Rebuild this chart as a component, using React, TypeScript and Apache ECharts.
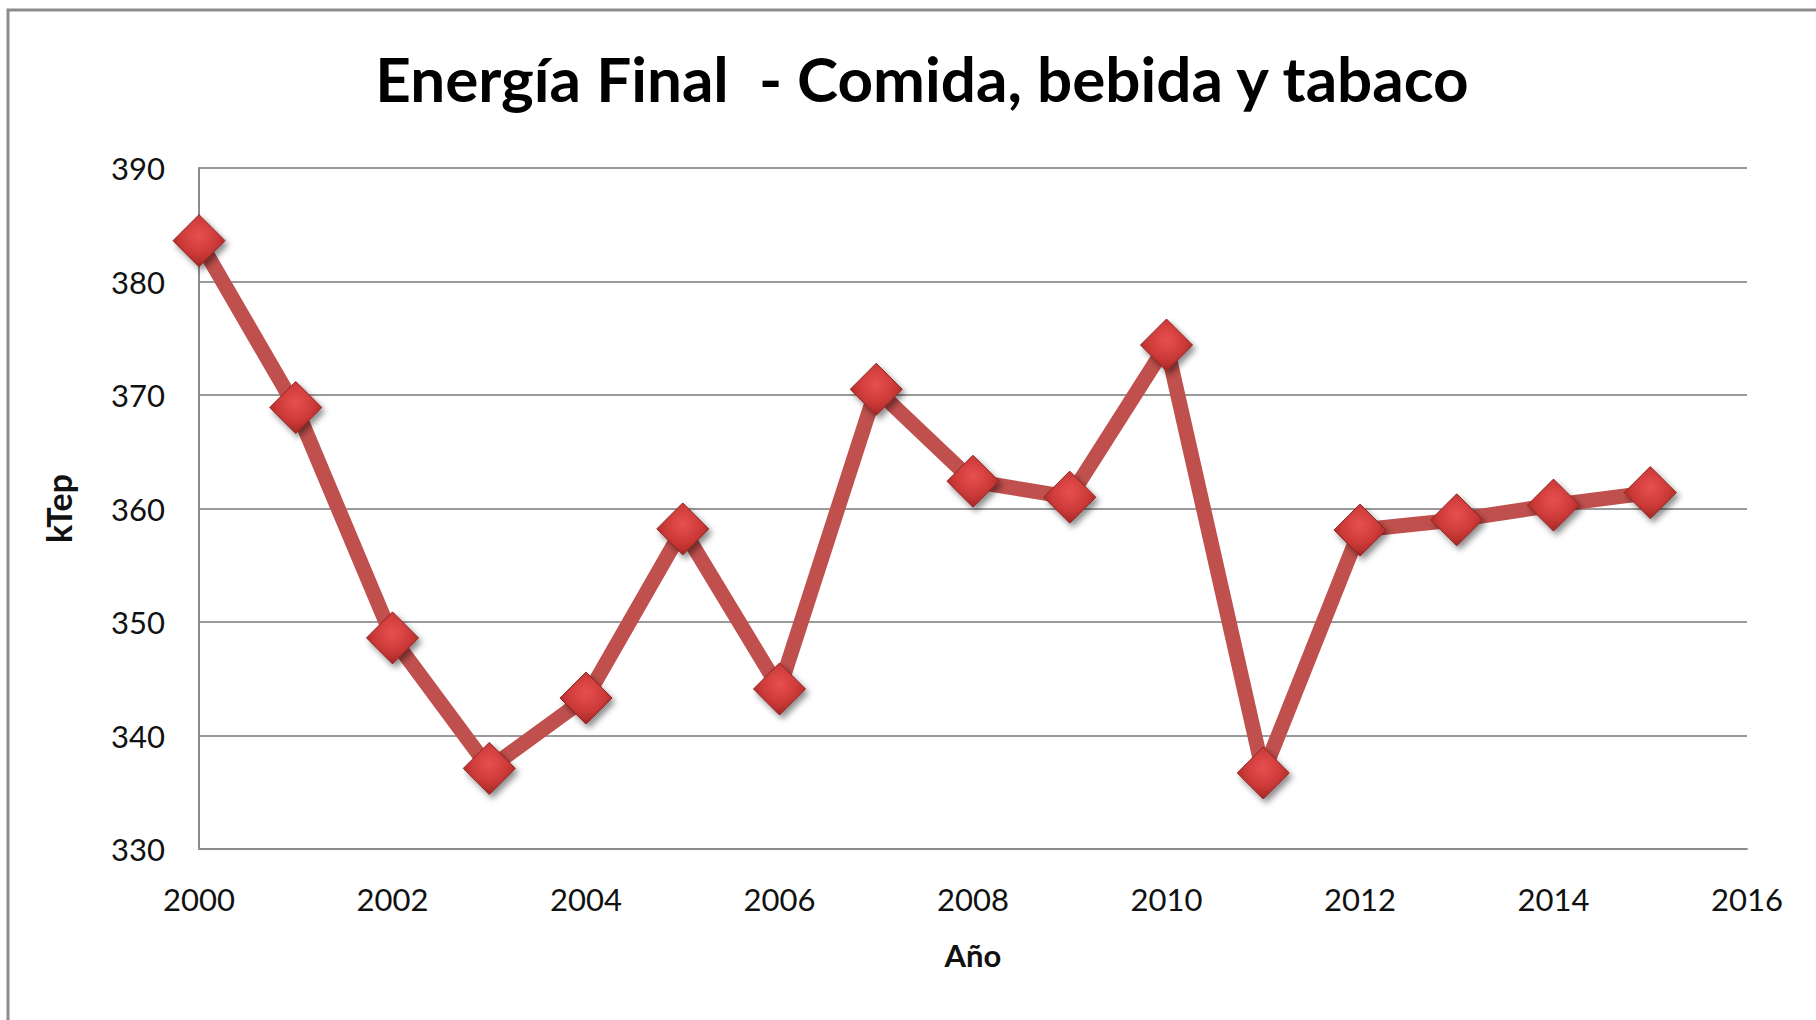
import React, { useEffect, useRef } from "react";
import * as echarts from "echarts";

const years = [2000, 2001, 2002, 2003, 2004, 2005, 2006, 2007, 2008, 2009, 2010, 2011, 2012, 2013, 2014, 2015];
const ktep = [383.6, 368.9, 348.6, 337.1, 343.3, 358.2, 344.1, 370.5, 362.4, 361.0, 374.4, 336.7, 358.1, 359.0, 360.3, 361.4];
const titleText = "Energía Final  - Comida, bebida y tabaco";
const yName = "kTep";
const xName = "Año";

export default function App() {
  const ref = useRef<HTMLDivElement>(null);
  useEffect(() => {
    document.body.style.margin = "0";
    if (!ref.current) return;
    const chart = echarts.init(ref.current, undefined, { renderer: "svg" });
    const font = "Lato, 'Open Sans', sans-serif";
    chart.setOption({
      animation: false,
      backgroundColor: "#ffffff",
      title: {
        text: titleText,
        left: 917,
        top: 42,
        textAlign: "center",
        textStyle: { fontFamily: font, fontWeight: "bold", fontSize: 62, color: "#000" },
      },
      graphic: [
        {
          type: "rect",
          shape: { x: 8, y: 10, width: 2000, height: 2000 },
          style: { fill: "none", stroke: "#8c8c8c", lineWidth: 3 },
          z: 100,
        },
      ],
      grid: { left: 199, right: 69, top: 168, bottom: 171 },
      xAxis: {
        type: "value",
        min: 2000,
        max: 2016,
        interval: 2,
        name: xName,
        nameLocation: "middle",
        nameGap: 90,
        nameTextStyle: { fontFamily: font, fontWeight: "bold", fontSize: 31, color: "#111" },
        axisLine: { show: true, lineStyle: { color: "#8c8c8c", width: 2 } },
        axisTick: { show: false },
        splitLine: { show: false },
        axisLabel: { fontFamily: font, fontSize: 31, color: "#111", margin: 34, formatter: (v: number) => String(v) },
      },
      yAxis: {
        type: "value",
        min: 330,
        max: 390,
        interval: 10,
        name: yName,
        nameLocation: "middle",
        nameRotate: 90,
        nameGap: 124,
        nameTextStyle: { fontFamily: font, fontWeight: "bold", fontSize: 34, color: "#111" },
        axisLine: { show: true, lineStyle: { color: "#8c8c8c", width: 2 } },
        axisTick: { show: false },
        splitLine: { show: true, lineStyle: { color: "#9a9a9a", width: 2 } },
        axisLabel: { fontFamily: font, fontSize: 31, color: "#111", margin: 34 },
      },
      series: [
        {
          type: "line",
          data: years.map((y, i) => [y, ktep[i]]),
          lineStyle: { color: "#C0504D", width: 15 },
          symbol: "diamond",
          symbolSize: [52, 52],
          itemStyle: {
            color: new echarts.graphic.RadialGradient(0.5, 0.4, 0.6, [
              { offset: 0, color: "#e8504f" },
              { offset: 0.6, color: "#cc3a38" },
              { offset: 1, color: "#a52624" },
            ]),
            borderColor: "#8e2422",
            borderWidth: 1,
            shadowBlur: 6,
            shadowColor: "rgba(0,0,0,0.45)",
            shadowOffsetX: 3,
            shadowOffsetY: 4,
          },
        },
      ],
    });
    return () => chart.dispose();
  }, []);
  return (
    <div
      ref={ref}
      style={{ position: "absolute", left: 0, top: 0, width: 1816, height: 1020 }}
    />
  );
}
